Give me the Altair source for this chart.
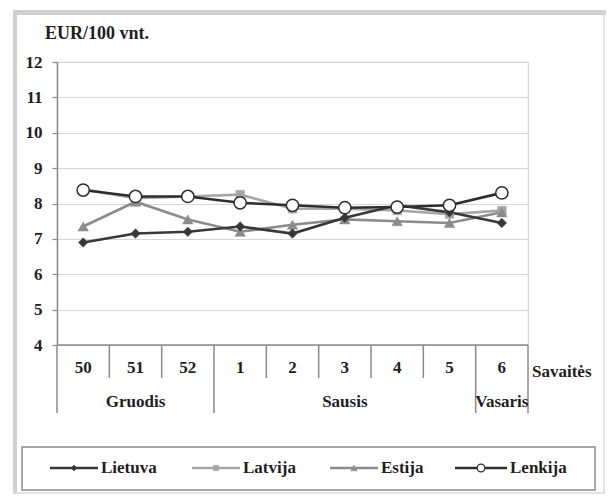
import altair as alt
import pandas as pd

# ---------------- data ----------------
weeks = ["50", "51", "52", "1", "2", "3", "4", "5", "6"]
week_months = ["Gruodis", "Gruodis", "Gruodis", "Sausis", "Sausis", "Sausis", "Sausis", "Sausis", "Vasaris"]
series = ["Lietuva", "Latvija", "Estija", "Lenkija"]
lietuva = [6.9, 7.15, 7.2, 7.35, 7.15, 7.6, 7.95, 7.75, 7.45]
latvija = [8.4, 8.15, 8.2, 8.25, 7.85, 7.85, 7.8, 7.7, 7.8]
estija = [7.35, 8.05, 7.55, 7.2, 7.4, 7.55, 7.5, 7.45, 7.75]
lenkija = [8.38, 8.2, 8.2, 8.02, 7.95, 7.88, 7.9, 7.95, 8.3]
y_ticks = [4, 5, 6, 7, 8, 9, 10, 11, 12]
y_title = "EUR/100 vnt."
x_title = "Savaitės"

# ---------------- layout / style ----------------
W, H = 471, 283
FONT = "'Times New Roman', 'Liberation Serif', serif"
FS = 17
TXT = "#1e1e1e"
AX = "#8a8a8a"
styles = {
    "Lietuva": dict(color="#383838", shape="diamond", size=90, fill="#383838"),
    "Latvija": dict(color="#a6a6a6", shape="square", size=75, fill="#a6a6a6"),
    "Estija": dict(color="#8c8c8c", shape="triangle-up", size=110, fill="#8c8c8c"),
    "Lenkija": dict(color="#2e2e2e", shape="circle", size=150, fill="white"),
}
draw_order = ["Latvija", "Estija", "Lietuva", "Lenkija"]
values = dict(zip(series, [lietuva, latvija, estija, lenkija]))

rows = []
for name in series:
    for i, (w, v) in enumerate(zip(weeks, values[name])):
        rows.append(dict(series=name, idx=i, week=w, value=v))
df = pd.DataFrame(rows)

xs = alt.Scale(domain=[-0.5, len(weeks) - 0.5])
ys = alt.Scale(domain=[min(y_ticks), max(y_ticks)])
axis_y = alt.Axis(values=y_ticks, grid=True, gridColor="#d6d6d6", gridWidth=1.2,
                  domainColor=AX, domainWidth=1.5, tickColor=AX, tickSize=5, tickWidth=1.2,
                  labelFont=FONT, labelFontSize=FS, labelFontWeight="bold", labelColor=TXT,
                  labelPadding=10, title=None)
X = alt.X("idx:Q", scale=xs, axis=None)
Y = alt.Y("value:Q", scale=ys, axis=axis_y)

layers = []

# frame (decorative)
frame = pd.DataFrame({"d": [0]})
layers.append(alt.Chart(frame).mark_rect(fill="#d0d0d0").encode(
    x=alt.value(-44), x2=alt.value(-40), y=alt.value(-52), y2=alt.value(432)))
layers.append(alt.Chart(frame).mark_rect(fill="#d0d0d0").encode(
    x=alt.value(-44), x2=alt.value(549), y=alt.value(-52), y2=alt.value(-47)))
layers.append(alt.Chart(frame).mark_rule(color="#d8d8d8", strokeWidth=1.5).encode(
    x=alt.value(547), y=alt.value(-52), y2=alt.value(431)))
layers.append(alt.Chart(frame).mark_rule(color="#d8d8d8", strokeWidth=1.5).encode(
    x=alt.value(-44), x2=alt.value(548), y=alt.value(431)))

for name in draw_order:
    st = styles[name]
    sub = df[df.series == name]
    layers.append(alt.Chart(sub).mark_line(color=st["color"], strokeWidth=2.6).encode(x=X, y=Y))
for name in draw_order:
    st = styles[name]
    sub = df[df.series == name]
    layers.append(alt.Chart(sub).mark_point(
        shape=st["shape"], size=st["size"], filled=True, fill=st["fill"],
        stroke=st["color"], strokeWidth=1.5 if name == "Lenkija" else 0.5, opacity=1).encode(x=X, y=Y))

# bottom axis line at min
layers.append(alt.Chart(frame).mark_rule(color=AX, strokeWidth=1.5).encode(
    x=alt.value(0), x2=alt.value(W), y=alt.value(H)))

# separators
seps = []
for i in range(len(weeks) + 1):
    long_ = i == 0 or i == len(weeks) or week_months[i] != week_months[i - 1]
    seps.append(dict(b=i - 0.5, long=long_))
sep_df = pd.DataFrame(seps)
layers.append(alt.Chart(sep_df[sep_df.long]).mark_rule(color=AX, strokeWidth=1.5).encode(
    x=alt.X("b:Q", scale=xs, axis=None), y=alt.value(H), y2=alt.value(H + 68)))
layers.append(alt.Chart(sep_df[~sep_df.long]).mark_rule(color=AX, strokeWidth=1.5).encode(
    x=alt.X("b:Q", scale=xs, axis=None), y=alt.value(H), y2=alt.value(H + 33)))

# week labels
wk_df = pd.DataFrame({"idx": list(range(len(weeks))), "week": weeks})
layers.append(alt.Chart(wk_df).mark_text(font=FONT, fontSize=FS, fontWeight="bold", color=TXT,
                                         baseline="middle").encode(
    x=X, y=alt.value(H + 23), text="week:N"))

# month labels
mrows = []
for m in dict.fromkeys(week_months):
    ids = [i for i, mm in enumerate(week_months) if mm == m]
    mrows.append(dict(month=m, c=(ids[0] + ids[-1]) / 2))
layers.append(alt.Chart(pd.DataFrame(mrows)).mark_text(font=FONT, fontSize=FS, fontWeight="bold",
                                                       color=TXT, baseline="middle").encode(
    x=alt.X("c:Q", scale=xs, axis=None), y=alt.value(H + 57), text="month:N"))

# axis titles
layers.append(alt.Chart(pd.DataFrame({"t": [x_title]})).mark_text(
    font=FONT, fontSize=FS, fontWeight="bold", color=TXT, align="left", baseline="middle").encode(
    x=alt.value(W + 4), y=alt.value(H + 27), text="t:N"))
layers.append(alt.Chart(pd.DataFrame({"t": [y_title]})).mark_text(
    font=FONT, fontSize=18, fontWeight="bold", color=TXT, align="left", baseline="middle").encode(
    x=alt.value(-12), y=alt.value(-28), text="t:N"))

# legend box
layers.append(alt.Chart(frame).mark_rect(fill="white", stroke=AX, strokeWidth=1.5).encode(
    x=alt.value(-35), x2=alt.value(538), y=alt.value(385), y2=alt.value(428)))
leg_x = [-7, 135, 273, 398]
LY = 406
for name, x0 in zip(series, leg_x):
    st = styles[name]
    ln = 52 if name == "Lenkija" else 48
    one = pd.DataFrame({"s": [name]})
    layers.append(alt.Chart(one).mark_rule(color=st["color"], strokeWidth=2.6).encode(
        x=alt.value(x0), x2=alt.value(x0 + ln), y=alt.value(LY)))
    layers.append(alt.Chart(one).mark_point(
        shape=st["shape"], size=st["size"] * 0.4, filled=True, fill=st["fill"],
        stroke=st["color"], strokeWidth=1.3 if name == "Lenkija" else 0.5, opacity=1).encode(
        x=alt.value(x0 + ln / 2), y=alt.value(LY)))
    layers.append(alt.Chart(one).mark_text(font=FONT, fontSize=FS, fontWeight="bold", color=TXT,
                                           align="left", baseline="middle").encode(
        x=alt.value(x0 + ln + 3), y=alt.value(LY), text="s:N"))

chart = alt.layer(*layers).properties(
    width=W, height=H,
    padding={"left": 49, "top": 54, "right": 78, "bottom": 149},
    autosize=alt.AutoSizeParams(type="none"),
    background="white",
).configure_view(stroke="#d6d6d6", strokeWidth=1.2)

chart.save("out.html", embed_options={"renderer": "svg", "actions": False})
